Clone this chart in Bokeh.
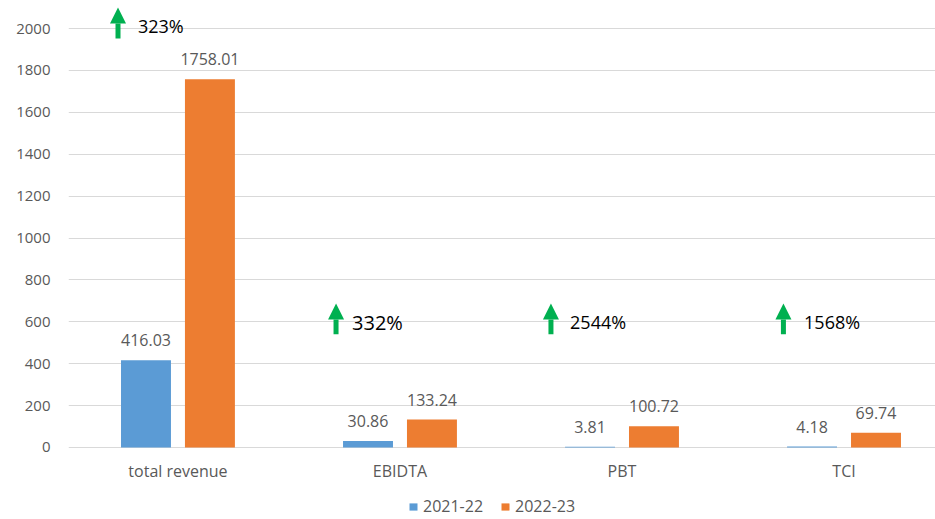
from bokeh.plotting import figure
from bokeh.models import (ColumnDataSource, FixedTicker, Legend, LegendItem, Arrow,
                          NormalHead, Range1d)
from bokeh.transform import dodge
from bokeh.core.properties import value
from bokeh.embed import file_html
from bokeh.resources import INLINE

# ---- data ----
categories = ["total revenue", "EBIDTA", "PBT", "TCI"]
fy_2021_22 = [416.03, 30.86, 3.81, 4.18]
fy_2022_23 = [1758.01, 133.24, 100.72, 69.74]
growth_labels = ["323%", "332%", "2544%", "1568%"]
y_ticks = [0, 200, 400, 600, 800, 1000, 1200, 1400, 1600, 1800, 2000]

# ---- layout / style (not data) ----
BLUE = "#5B9BD5"
ORANGE = "#ED7D31"
GREEN = "#00B050"
GRAY = "#595959"
FONT = "Open Sans"
growth_y = [2010, 597, 597, 597]          # vertical centre of growth labels
arrow_dx = [-0.27, -0.288, -0.32, -0.273]  # arrow offset from category centre
text_dx = [-0.18, -0.216, -0.234, -0.18]   # growth text offset from category centre
growth_size = ["18px", "20px", "18px", "18px"]

idx = list(range(len(categories)))
src = ColumnDataSource(dict(
    x=idx, a=fy_2021_22, b=fy_2022_23,
    zero=[0] * len(categories), cat=categories,
    a_lbl=[f"{v:.2f}" for v in fy_2021_22],
    b_lbl=[f"{v:.2f}" for v in fy_2022_23],
))

p = figure(width=935, height=519, output_backend="svg", toolbar_location=None,
           x_range=Range1d(-0.493, 3.412), y_range=Range1d(-344, 2134),
           min_border_left=68, min_border_right=0, min_border_top=0,
           min_border_bottom=0)
p.outline_line_color = None
p.background_fill_color = "white"
p.border_fill_color = "white"

off = 0.144
bw = 0.225
r_a = p.vbar(x=dodge("x", -off, range=p.x_range), top="a", width=bw, source=src,
             fill_color=BLUE, line_color=None)
r_b = p.vbar(x=dodge("x", off, range=p.x_range), top="b", width=bw, source=src,
             fill_color=ORANGE, line_color=None)

for col, lbl, d in (("a", "a_lbl", -off), ("b", "b_lbl", off)):
    p.text(x=dodge("x", d, range=p.x_range), y=col, text=lbl, source=src,
           text_align="center", text_baseline="bottom", y_offset=-14,
           text_font=value(FONT), text_font_size="16px", text_color=GRAY)

# category labels under the zero line
p.text(x="x", y="zero", text="cat", source=src, text_align="center",
       text_baseline="top", y_offset=13, text_font=value(FONT),
       text_font_size="16px", text_color=GRAY)

# growth annotations
for i, g in enumerate(growth_labels):
    y0 = growth_y[i] - 57
    y1 = growth_y[i] + 90
    p.add_layout(Arrow(end=NormalHead(size=16, fill_color=GREEN, line_color=GREEN, line_width=0),
                       x_start=i + arrow_dx[i], y_start=y0,
                       x_end=i + arrow_dx[i], y_end=y1,
                       line_color=GREEN, line_width=5))
    p.text(x=[i + text_dx[i]], y=[growth_y[i]], text=[g],
           text_align="left", text_baseline="middle",
           text_font=value(FONT), text_font_size=growth_size[i], text_color="black")

# axes
p.yaxis.ticker = FixedTicker(ticks=y_ticks)
p.yaxis.axis_line_color = None
p.yaxis.major_tick_line_color = None
p.yaxis.minor_tick_line_color = None
p.yaxis.major_tick_out = 0
p.yaxis.major_tick_in = 0
p.yaxis.major_label_standoff = 18
p.yaxis.major_label_text_font = FONT
p.yaxis.major_label_text_font_size = "15px"
p.yaxis.major_label_text_color = GRAY

p.xaxis.visible = False
p.xgrid.grid_line_color = None
p.ygrid.ticker = FixedTicker(ticks=y_ticks)
p.ygrid.grid_line_color = "#D9D9D9"
p.ygrid.grid_line_width = 1

legend = Legend(items=[LegendItem(label="2021-22", renderers=[r_a]),
                       LegendItem(label="2022-23", renderers=[r_b])],
                location=(340, 2), orientation="horizontal",
                glyph_width=10, glyph_height=9, label_standoff=5, spacing=17,
                padding=0, margin=0, label_height=16,
                background_fill_alpha=0, border_line_color=None,
                label_text_font=FONT, label_text_font_size="16px",
                label_text_color=GRAY)
p.add_layout(legend)

open("out.html", "w").write(file_html(p, INLINE))
